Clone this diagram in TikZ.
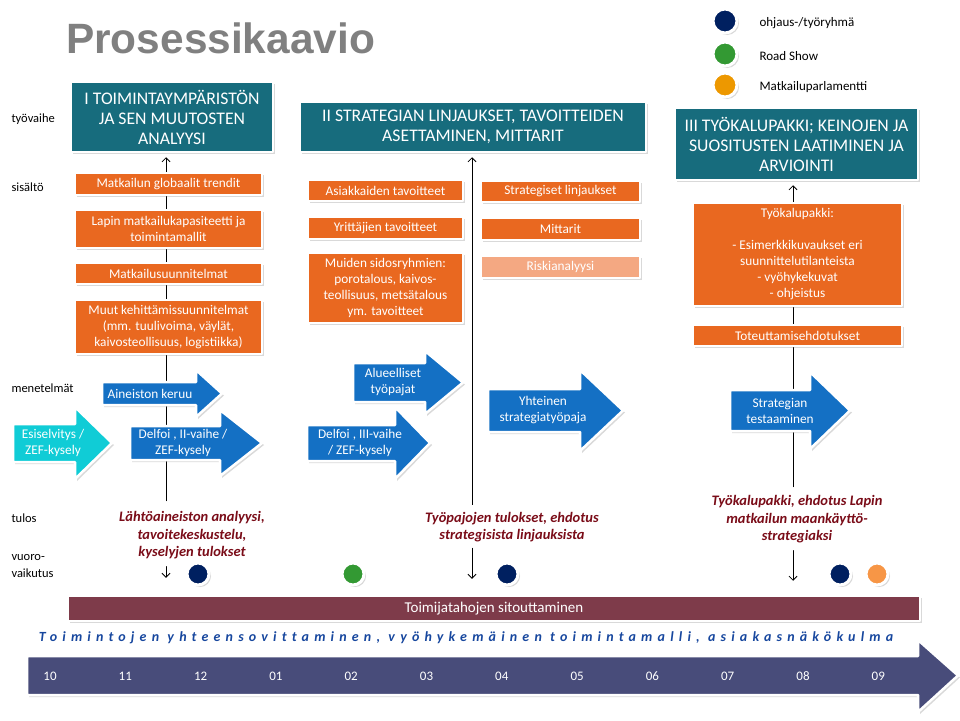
\documentclass[tikz,border=0pt]{standalone}
\usepackage{fontspec}
\setmainfont{Carlito}
\newfontfamily\titlefont{Liberation Sans}
\newfontfamily\spacedfont[LetterSpace=37,Ligatures=NoCommon]{Carlito}
\usetikzlibrary{arrows.meta,shadows,backgrounds}
\definecolor{phaseteal}{RGB}{23,108,125}
\definecolor{boxorange}{RGB}{233,104,32}
\definecolor{riskorange}{RGB}{244,168,130}
\definecolor{methodblue}{RGB}{20,112,196}
\definecolor{pilotcyan}{RGB}{16,204,214}
\definecolor{resultred}{RGB}{122,12,24}
\definecolor{navydot}{RGB}{0,32,96}
\definecolor{greendot}{RGB}{51,153,51}
\definecolor{amberdot}{RGB}{237,152,0}
\definecolor{peachdot}{RGB}{247,150,70}
\definecolor{barmaroon}{RGB}{126,59,74}
\definecolor{timeblue}{RGB}{72,76,122}
\definecolor{themeblue}{RGB}{23,71,158}

\begin{document}
\begin{tikzpicture}[x=1pt,y=-1pt,line cap=round,line join=round,
  softshadow/.style={drop shadow={opacity=0.3,shadow xshift=2pt,shadow yshift=-2pt}},
  whiteframe/.style={draw=white,line width=2.5pt,softshadow},
  phasebox/.style={whiteframe,fill=phaseteal,text=white,align=center,inner sep=0pt,font=\fontsize{17.7}{20}\selectfont},
  contentbox/.style={whiteframe,fill=boxorange,text=white,align=center,inner sep=0pt,font=\fontsize{13.3}{16}\selectfont},
  rowlabel/.style={anchor=west,align=left,font=\fontsize{12.5}{17}\selectfont},
  resulttext/.style={align=center,text=resultred,inner sep=1pt,font=\fontsize{14.5}{17.5}\selectfont\bfseries\itshape},
  meetdot/.style={circle,draw=white,line width=3pt,minimum size=#1,inner sep=0pt,softshadow},
  upline/.style={-{Straight Barb[length=4pt,width=8pt]},line width=0.8pt}]
\useasboundingbox (0,0) rectangle (960,720);
\node[anchor=base west,inner sep=0pt,text=black!50,font=\titlefont\bfseries\fontsize{42.4}{46}\selectfont] (title) at (66,53) {Prosessikaavio};
\foreach \n/\c/\y/\t in {steer/navydot/21/{ohjaus-/työryhmä},road/greendot/54/{Road Show},parl/amberdot/85/{Matkailuparlamentti}}{\node[meetdot=24pt,fill=\c] (\n) at (725,\y) {};\node[anchor=west,font=\fontsize{13}{15}\selectfont] (\n text) at (756,\y+2) {\t};}
\foreach \n/\y/\t in {rowphase/119/työvaihe,rowcontent/187/sisältö,rowmethod/388/menetelmät,rowresult/518/tulos,rowinter/566/{vuoro-\\vaikutus}}{\node[rowlabel] (\n) at (8,\y) {\t};}
\node[phasebox,minimum width=202,minimum height=70] (phase1) at (172,117) {I TOIMINTAYMPÄRISTÖN\\JA SEN MUUTOSTEN\\ANALYYSI};
\node[phasebox,minimum width=346,minimum height=50] (phase2) at (473,127) {II STRATEGIAN LINJAUKSET, TAVOITTEIDEN\\ASETTAMINEN, MITTARIT};
\node[phasebox,minimum width=243,minimum height=72] (phase3) at (796.5,144) {III TYÖKALUPAKKI; KEINOJEN JA\\SUOSITUSTEN LAATIMINEN JA\\ARVIOINTI};
\foreach \n/\x/\y/\w/\h/\t in {trends/168.5/184/187/22/{Matkailun globaalit trendit},capacity/168.5/229/187/38/{Lapin matkailukapasiteetti ja\\toimintamallit},tourplans/168.5/273.5/187/21/{Matkailusuunnitelmat},otherplans/168.5/327/187/54/{Muut kehittämissuunnitelmat\\(mm. tuulivoima, väylät,\\kaivosteollisuus, logistiikka)},custgoals/385.5/190.5/155/21/{Asiakkaiden tavoitteet},entgoals/385.5/228/155/22/{Yrittäjien tavoitteet},stakegoals/385.5/288/155/70/{Muiden sidosryhmien:\\porotalous, kaivos-\\teollisuus, metsätalous\\ym. tavoitteet},policies/560.5/191.5/159/21/{Strategiset linjaukset},metrics/560.5/229/159/22/{Mittarit},toolkit/797.5/254.5/209/103/{Työkalupakki:\\[16pt]- Esimerkkikuvaukset eri\\suunnittelutilanteista\\- vyöhykekuvat\\- ohjeistus},proposals/797.5/335.5/209/21/{Toteuttamisehdotukset}}{\node[contentbox,minimum width=\w,minimum height=\h] (\n) at (\x,\y) {\t};}
\node[contentbox,fill=riskorange,minimum width=159,minimum height=22] (risk) at (560.5,267) {Riskianalyysi};
\foreach \n/\c/\xl/\xb/\xt/\yt/\yb/\e/\tx/\t in {gather/methodblue/102/196/222/382/405/12/150/{Aineiston keruu},pilot/pilotcyan/13/75/112/424/462/17/53/{Esiselvitys /\\ZEF-kysely},delphi2/methodblue/130/220/262/426/460/16/183/{Delfoi , II-vaihe /\\ZEF-kysely},workshops/methodblue/353/425/463/363/402/12/393/{Alueelliset\\työpajat},delphi3/methodblue/307/395/430/425/461/18/360/{Delfoi , III-vaihe\\/ ZEF-kysely},jointws/methodblue/488/580/623/389/432/19/543/{Yhteinen\\strategiatyöpaja},testing/methodblue/730/810/850/390/431/18/780/{Strategian\\testaaminen}}{\draw[whiteframe,fill=\c] (\xl,\yt) -- (\xb,\yt) -- (\xb,\yt-\e) -- (\xt,{(\yt+\yb)/2}) -- (\xb,\yb+\e) -- (\xb,\yb) -- (\xl,\yb) -- cycle;\node[text=white,align=center,font=\fontsize{13.3}{16}\selectfont] (\n) at (\tx,{(\yt+\yb)/2}) {\t};}
\node[resulttext] (result1) at (192,535.5) {Lähtöaineiston analyysi,\\tavoitekeskustelu,\\kyselyjen tulokset};
\node[resulttext] (result2) at (512,527) {Työpajojen tulokset, ehdotus\\strategisista linjauksista};
\node[resulttext] (result3) at (797,519.5) {Työkalupakki, ehdotus Lapin\\matkailun maankäyttö-\\strategiaksi};
\foreach \n/\c/\x in {meet1/navydot/198,meet2/greendot/353,meet3/navydot/507,meet4/navydot/840,meet5/peachdot/877}{\node[meetdot=22pt,fill=\c] (\n) at (\x,574) {};}
\node[whiteframe,fill=barmaroon,minimum width=852,minimum height=25,inner sep=0pt,text=white,font=\fontsize{15}{17}\selectfont] (commit) at (494,608.5) {Toimijatahojen sitouttaminen};
\node[text=themeblue,font=\spacedfont\bfseries\itshape\fontsize{14}{16}\selectfont] (theme) at (466,638) {Toimintojen yhteensovittaminen, vyöhykemäinen toimintamalli, asiakasnäkökulma};
\draw[whiteframe,fill=timeblue] (27,656) -- (918,656) -- (918,640) -- (958,675.5) -- (918,712) -- (918,695) -- (27,695) -- cycle;
\foreach \m [count=\i from 0] in {10,11,12,01,02,03,04,05,06,07,08,09}{\node[text=white,font=\fontsize{13}{15}\selectfont] (month\i) at ({50+75.3*\i},676) {\m};}
\coordinate (col1) at (166,0);
\coordinate (col2) at (472,0);
\coordinate (col3) at (793,0);
\begin{scope}[on background layer]
\draw[upline,shorten <=9pt,shorten >=4pt] (result1.north -| col1) -- (phase1.south -| col1);
\draw[upline,shorten <=6pt,shorten >=4pt] (result2.north -| col2) -- (phase2.south -| col2);
\draw[upline,shorten <=7pt,shorten >=4pt] (result3.north -| col3) -- (phase3.south -| col3);
\end{scope}
\draw[upline,shorten <=6pt,shorten >=17pt] (result1.south -| col1) -- (commit.north -| col1);
\draw[upline,shorten <=5pt,shorten >=16pt] (result2.south -| col2) -- (commit.north -| col2);
\draw[upline,shorten <=6pt,shorten >=14pt] (result3.south -| col3) -- (commit.north -| col3);
\end{tikzpicture}
\end{document}
